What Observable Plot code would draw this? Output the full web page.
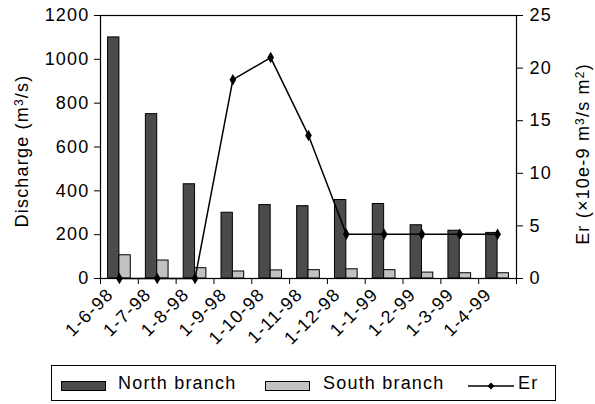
<!DOCTYPE html>
<html>
<head>
<meta charset="utf-8">
<script src="https://cdn.jsdelivr.net/npm/d3@7"></script>
<script src="https://cdn.jsdelivr.net/npm/@observablehq/plot@0.6"></script>
<style>
  body { margin: 0; background: #fff; width: 595px; height: 404px; overflow: hidden; position: relative; font-family: "Liberation Sans", Arial, sans-serif; }
  #legend { position: absolute; left: 51px; top: 365px; width: 505px; height: 36px; border: 1px solid #000; box-sizing: border-box; font-size: 18px; letter-spacing: 1.2px; }
  #legend .sw { position: absolute; top: 15px; width: 45px; height: 10px; border: 1px solid #000; box-sizing: border-box; }
  #legend .tx { position: absolute; top: 7px; line-height: 20px; }
</style>
</head>
<body>
<div id="chart"></div>
<div id="legend"></div>
<script>
const categories = ["1-6-98","1-7-98","1-8-98","1-9-98","1-10-98","1-11-98","1-12-98","1-1-99","1-2-99","1-3-99","1-4-99"];
const northBranch = [1100, 750, 430, 300, 335, 330, 358, 340, 243, 218, 208];
const southBranch = [106, 82, 47, 32, 37, 38, 42, 38, 27, 24, 24];
const erValues = [0, 0, 0, 18.9, 21, 13.6, 4.2, 4.2, 4.2, 4.2, 4.2];
const leftTicks = [0, 200, 400, 600, 800, 1000, 1200];
const rightTicks = [0, 5, 10, 15, 20, 25];
const seriesNames = ["North branch", "South branch", "Er"];
const leftTitle = ["Discharge (m", "3", "/s)"];
const rightTitle = ["Er (\u00d710e-9 m", "3", "/s m", "2", ")"];
const colors = {north: "#4b4b4b", south: "#c2c2c2"};

const yMax = 1200, erMax = 25, k = yMax / erMax;
const rows = categories.map((c, i) => ({i, c, north: northBranch[i], south: southBranch[i], er: erValues[i]}));
const bounds = d3.range(categories.length + 1);
const FS = 18;

const chart = Plot.plot({
  width: 595,
  height: 362,
  marginLeft: 100,
  marginRight: 79,
  marginTop: 15,
  marginBottom: 84,
  style: {fontFamily: "'Liberation Sans', Arial, sans-serif", fontSize: "18px", letterSpacing: "1.2px", color: "#000", background: "#fff"},
  x: {domain: [0, categories.length]},
  y: {domain: [0, yMax]},
  marks: [
    Plot.rectY(rows, {x1: d => d.i + 0.2, x2: d => d.i + 0.5, y1: 0, y2: "north", fill: colors.north, stroke: "#000", strokeWidth: 1}),
    Plot.rectY(rows, {x1: d => d.i + 0.5, x2: d => d.i + 0.8, y1: 0, y2: "south", fill: colors.south, stroke: "#000", strokeWidth: 1}),
    Plot.frame({stroke: "#000", strokeWidth: 1.2}),
    Plot.line(rows, {x: d => d.i + 0.5, y: d => d.er * k, stroke: "#000", strokeWidth: 1.5}),
    Plot.dot(rows, {x: d => d.i + 0.5, y: d => d.er * k, symbol: "diamond", r: 3.5, fill: "#000"}),
    Plot.axisY({ticks: leftTicks, tickFormat: v => String(v), tickSize: 6, tickPadding: 5, fontSize: FS, label: null}),
    Plot.axisY({anchor: "right", ticks: rightTicks.map(v => v * k), tickFormat: v => String(Math.round(v / k)), tickSize: 6, tickPadding: 7, fontSize: FS, label: null}),
    Plot.axisX({ticks: bounds, tickFormat: () => "", tickSize: 6, label: null}),
    Plot.text(rows, {x: d => d.i + 0.5, text: "c", frameAnchor: "bottom", rotate: -45, textAnchor: "end", lineAnchor: "middle", dx: -9, dy: 13, fontSize: FS}),
    Plot.text([leftTitle.join("")], {frameAnchor: "left", rotate: -90, dx: -78, dy: 4, textAnchor: "middle", lineAnchor: "middle", fontSize: FS, className: "ttl-left"}),
    Plot.text([rightTitle.join("")], {frameAnchor: "right", rotate: -90, dx: 67, dy: 7, textAnchor: "middle", lineAnchor: "middle", fontSize: FS, className: "ttl-right"})
  ]
});
document.getElementById("chart").appendChild(chart);

// rebuild the axis titles with real superscripts
function superscriptify(sel, parts) {
  const t = d3.select(chart).select(sel).select("text");
  t.text(null);
  parts.forEach((p, j) => {
    const sup = j % 2 === 1;
    t.append("tspan").attr("font-size", sup ? 12 : null).attr("baseline-shift", sup ? "45%" : null).text(p);
  });
}
superscriptify(".ttl-left", leftTitle);
superscriptify(".ttl-right", rightTitle);

const legend = document.getElementById("legend");
const items = [
  {type: "bar", fill: colors.north, sx: 9, tx: 66},
  {type: "bar", fill: colors.south, sx: 213, tx: 271},
  {type: "line", sx: 416, tx: 466}
];
items.forEach((it, j) => {
  if (it.type === "bar") {
    const s = document.createElement("div");
    s.className = "sw"; s.style.left = it.sx + "px"; s.style.background = it.fill;
    legend.appendChild(s);
  } else {
    const ns = "http://www.w3.org/2000/svg";
    const svg = document.createElementNS(ns, "svg");
    svg.setAttribute("width", 48); svg.setAttribute("height", 12);
    svg.style.position = "absolute"; svg.style.left = it.sx + "px"; svg.style.top = "14px";
    const ln = document.createElementNS(ns, "line");
    ln.setAttribute("x1", 0); ln.setAttribute("x2", 46); ln.setAttribute("y1", 6); ln.setAttribute("y2", 6);
    ln.setAttribute("stroke", "#000"); ln.setAttribute("stroke-width", 1.5);
    const dm = document.createElementNS(ns, "path");
    dm.setAttribute("d", "M23,2.5L26.5,6L23,9.5L19.5,6Z"); dm.setAttribute("fill", "#000");
    svg.appendChild(ln); svg.appendChild(dm);
    legend.appendChild(svg);
  }
  const t = document.createElement("div");
  t.className = "tx"; t.style.left = it.tx + "px"; t.textContent = seriesNames[j];
  legend.appendChild(t);
});
</script>
</body>
</html>
